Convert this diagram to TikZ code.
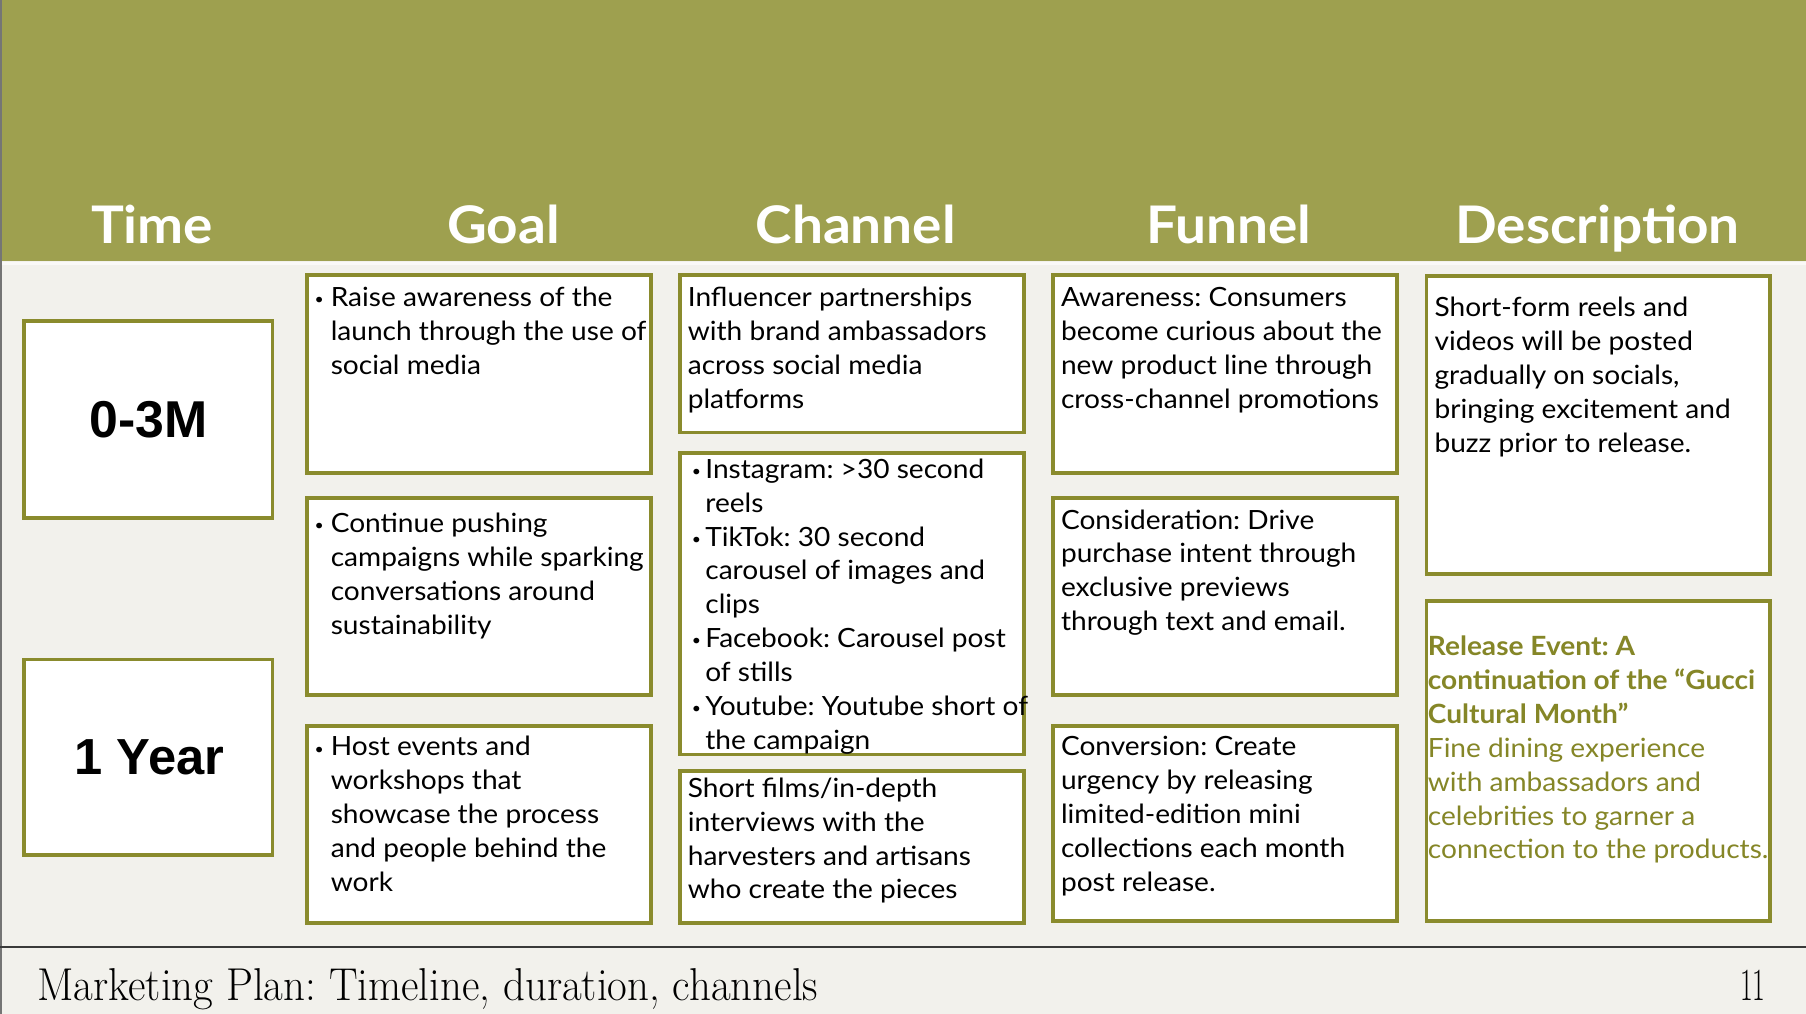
\documentclass[tikz,border=0pt]{standalone}
\usepackage{fontspec}
\usepackage{graphicx}
\newfontfamily\bodyfont{Lato}[FakeStretch=1.06]
\newfontfamily\headfont{Lato}[FakeStretch=1.06]
\newfontfamily\timefont{Liberation Sans}
\definecolor{headc}{HTML}{9EA04F}
\definecolor{boxc}{HTML}{8A8B2D}
\definecolor{olivetext}{HTML}{858627}
\definecolor{bgc}{HTML}{F2F1EC}
\definecolor{rulec}{HTML}{3A3A3A}
\newcommand{\bul}[1]{\makebox[#1][l]{\raisebox{1.5pt}{\fontsize{13}{13}\selectfont •}}}
\newcommand{\btxt}[1]{\parbox[t]{330pt}{\raggedright #1}}
\tikzset{
  cell/.style={draw=boxc, line width=3.3pt, fill=white, inner sep=0pt, outer sep=0pt, anchor=north west},
  body/.style={inner sep=0pt, anchor=base west, font=\bodyfont\frenchspacing\fontsize{23}{29.4}\selectfont},
  head/.style={inner sep=0pt, anchor=base, text=white, font=\headfont\bfseries\fontsize{45}{45}\selectfont},
  timelab/.style={inner sep=0pt, font=\timefont\bfseries\fontsize{45}{45}\selectfont}
}
\begin{document}
\begin{tikzpicture}[x=1pt,y=-1pt]
\useasboundingbox (0,0) rectangle (1568,880.35);
% background
\fill[bgc] (0,0) rectangle (1568,880.35);
\fill[headc] (0,0) rectangle (1568,226.5);
\draw[white!60!bgc, line width=3pt] (0,229) -- (1568,229);
\draw[rulec!70, line width=2pt] (1,0) -- (1,880.35);
\draw[rulec, line width=1.6pt] (0,822) -- (1568,822);
% headers
\node[head] (hTime) at (132,211) {Time};
\node[head] (hGoal) at (437,211) {Goal};
\node[head] (hChan) at (743,211) {Channel};
\node[head] (hFun) at (1067,211) {Funnel};
\node[head] (hDesc) at (1387,211) {Description};
% time boxes
\node[cell, minimum width=215.5pt, minimum height=171pt] (t1) at (21,278.5) {};
\node[cell, minimum width=215.5pt, minimum height=170pt] (t2) at (21,572.5) {};
\node[timelab] (t1l) at (t1.center) {0-3M};
\node[timelab, font=\timefont\bfseries\fontsize{44}{44}\selectfont] (t2l) at ([xshift=1pt]t2.center) {1 Year};
% goal boxes
\node[cell, minimum width=299pt, minimum height=171.5pt] (g1) at (266.5,239) {};
\node[cell, minimum width=299pt, minimum height=171pt] (g2) at (266.5,432.5) {};
\node[cell, minimum width=299pt, minimum height=171pt] (g3) at (266.5,630.5) {};
% channel boxes
\node[cell, minimum width=298.5pt, minimum height=136.5pt] (c1) at (590.5,239) {};
\node[cell, minimum width=298.5pt, minimum height=261.5pt] (c2) at (590.5,393.5) {};
\node[cell, minimum width=298.5pt, minimum height=132pt] (c3) at (590.5,669.5) {};
% funnel boxes
\node[cell, minimum width=298.5pt, minimum height=171.5pt] (f1) at (914.5,239) {};
\node[cell, minimum width=298.5pt, minimum height=171pt] (f2) at (914.5,432.5) {};
\node[cell, minimum width=298.5pt, minimum height=169pt] (f3) at (914.5,630.5) {};
% description boxes
\node[cell, minimum width=298pt, minimum height=259pt] (d1) at (1238.5,239.5) {};
\node[cell, minimum width=298pt, minimum height=278pt] (d2) at (1238.5,521.5) {};
% goal texts
\node[body] (g1t) at (273,266.3) {\btxt{\hangindent=14pt\hangafter=1 \bul{14pt}Raise awareness of the\newline launch through the use of\newline social media}};
\node[body] (g2t) at (273,462.3) {\btxt{\hangindent=14pt\hangafter=1 \bul{14pt}Continue pushing\newline campaigns while sparking\newline conversations around\newline sustainability}};
\node[body] (g3t) at (273,656.3) {\btxt{\hangindent=14pt\hangafter=1 \bul{14pt}Host events and\newline workshops that\newline showcase the process\newline and people behind the\newline work}};
% channel texts
\node[body] (c1t) at (597,266.3) {\btxt{Influencer partnerships\\with brand ambassadors\\across social media\\platforms}};
\node[body] (c2t) at (600.5,415.3) {\btxt{%
\hangindent=11.7pt\hangafter=1 \bul{11.7pt}Instagram: >30 second\newline reels\par
\hangindent=11.7pt\hangafter=1 \bul{11.7pt}TikTok: 30 second\newline carousel of images and\newline clips\par
\hangindent=11.7pt\hangafter=1 \bul{11.7pt}Facebook: Carousel post\newline of stills\par
\hangindent=11.7pt\hangafter=1 \bul{11.7pt}Youtube: Youtube short of\newline the campaign}};
\node[body] (c3t) at (597,692.3) {\btxt{Short films/in-depth\\interviews with the\\harvesters and artisans\\who create the pieces}};
% funnel texts
\node[body] (f1t) at (921,266.3) {\btxt{Awareness: Consumers\\become curious about the\\new product line through\\cross-channel promotions}};
\node[body] (f2t) at (921,459.3) {\btxt{Consideration: Drive\\purchase intent through\\exclusive previews\\through text and email.}};
\node[body] (f3t) at (921,656.3) {\btxt{Conversion: Create\\urgency by releasing\\limited-edition mini\\collections each month\\post release.}};
% description texts
\node[body] (d1t) at (1245.3,274.9) {\btxt{Short-form reels and\\videos will be posted\\gradually on socials,\\bringing excitement and\\buzz prior to release.}};
\node[body, text=olivetext] (d2t) at (1239.5,569.3) {\btxt{{\bfseries Release Event: A\\continuation of the “Gucci\\Cultural Month”}\\Fine dining experience\\with ambassadors and\\celebrities to garner a\\connection to the products.}};
% footer
\node[inner sep=0pt, anchor=base west, font=\rmfamily\frenchspacing\fontsize{40}{40}\selectfont] (foot) at (32.4,868.8) {\scalebox{0.93}[1]{Marketing Plan: Timeline, duration, channels}};
\node[inner sep=0pt, anchor=base east, font=\rmfamily\fontsize{40}{40}\selectfont] (pg) at (1533,869) {\scalebox{0.6}[1]{11}};
\end{tikzpicture}
\end{document}
